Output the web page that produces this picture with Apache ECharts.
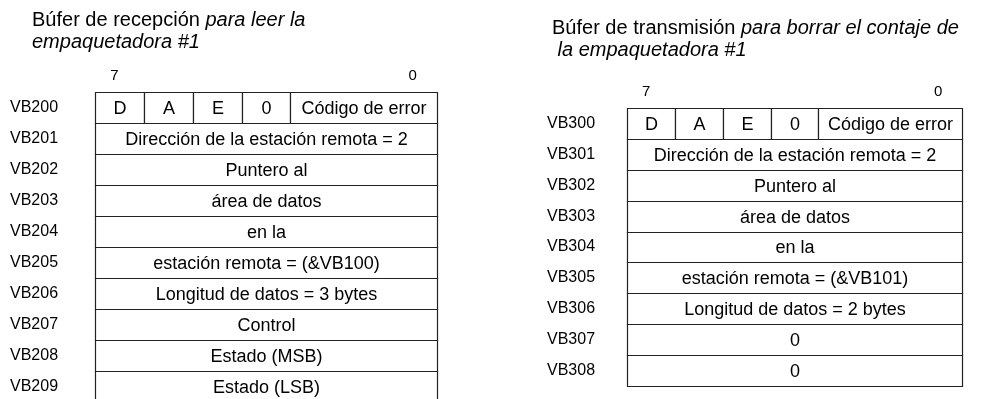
<!DOCTYPE html>
<html><head><meta charset="utf-8">
<script src="https://cdn.jsdelivr.net/npm/echarts@6/dist/echarts.min.js"></script>
<style>html,body{margin:0;padding:0;background:#fff}#c{width:981px;height:399px}</style>
</head><body><div id="c"></div>
<script>
// ---- data ----
const recvTitle = 'Búfer de recepción ';
const recvTitleItalic = ['para leer la', 'empaquetadora #1'];
const sendTitle = 'Búfer de transmisión ';
const sendTitleItalic = ['para borrar el contaje de', ' la empaquetadora #1'];
const recvRows = ['VB200','VB201','VB202','VB203','VB204','VB205','VB206','VB207','VB208','VB209'];
const sendRows = ['VB300','VB301','VB302','VB303','VB304','VB305','VB306','VB307','VB308'];
const headerCells = ['D','A','E','0','Código de error'];
const headerSpans = [1,1,1,1,3];
const recvTexts = ['Dirección de la estación remota = 2','Puntero al','área de datos','en la','estación remota = (&VB100)','Longitud de datos = 3 bytes','Control','Estado (MSB)','Estado (LSB)'];
const sendTexts = ['Dirección de la estación remota = 2','Puntero al','área de datos','en la','estación remota = (&VB101)','Longitud de datos = 2 bytes','0','0'];
const bitLabels = ['7','0'];
const bitLabelPos = [0.4, 6.5];

// ---- build ----
const FONT = '"Liberation Sans", Arial, Helvetica, sans-serif';
const totalUnits = headerSpans.reduce((a,b)=>a+b,0);

function cellData(texts){
  const out = [];
  let x = 0;
  headerCells.forEach((t,i)=>{ out.push([x, x+headerSpans[i], 0]); x += headerSpans[i]; });
  texts.forEach((t,i)=>{ out.push([0, totalUnits, i+1]); });
  return out;
}
function cellTexts(texts){ return headerCells.concat(texts); }
function makeRenderCell(texts){
  const labels = cellTexts(texts);
  return function(params, api){
    const a = api.coord([api.value(0), api.value(2)]);
    const b = api.coord([api.value(1), api.value(2)]);
    const h = api.size([0,1])[1];
    const x0 = Math.round(a[0]) + 0.5, x1 = Math.round(b[0]) + 0.5;
    const y0 = Math.round(a[1] - h/2) + 0.5, y1 = Math.round(a[1] + h/2) + 0.5;
    return {
      type: 'group',
      children: [
        {type:'rect', shape:{x:x0, y:y0, width:x1-x0, height:y1-y0},
         style:{fill:'#fff', stroke:'#222', lineWidth:1.2}},
        {type:'text', style:{text: labels[params.dataIndex], x:(x0+x1)/2, y:(y0+y1)/2 + 1,
          align:'center', verticalAlign:'middle', fontSize:18, fontFamily:FONT, fill:'#000'}}
      ]
    };
  };
}
function renderBit(params, api){
  const p = api.coord([api.value(0), 0]);
  const h = api.size([0,1])[1];
  return {type:'text', style:{text: bitLabels[params.dataIndex], x:p[0], y:p[1] - h/2 - 16,
    align:'center', verticalAlign:'middle', fontSize:15, fontFamily:FONT, fill:'#000'}};
}
function titleOf(plain, ital, left, top){
  return {left, top, padding:0, text: '{n|' + plain + '}{i|' + ital[0] + '}\n{i|' + ital[1] + '}',
    textStyle:{fontWeight:'normal', rich:{
      n:{fontSize:20, fontFamily:FONT, color:'#000', fontWeight:'normal', lineHeight:22},
      i:{fontSize:20, fontFamily:FONT, color:'#000', fontWeight:'normal', fontStyle:'italic', lineHeight:22}
    }}};
}
const grids = [
  {left:95, top:92, width:342, height:310, outerBoundsMode:'none'},
  {left:627, top:108, width:335, height:278, outerBoundsMode:'none'}
];
function xAx(i){ return {type:'value', gridIndex:i, min:0, max:totalUnits, show:false}; }
function yAx(i, rows, margin){
  return {type:'category', gridIndex:i, data:rows, inverse:true,
    axisLine:{show:false}, axisTick:{show:false}, splitLine:{show:false},
    axisLabel:{align:'left', margin, fontSize:16, fontFamily:FONT, color:'#000'}};
}
const chart = echarts.init(document.getElementById('c'), null, {renderer:'canvas'});
chart.setOption({
  animation:false,
  backgroundColor:'#fff',
  title:[titleOf(recvTitle, recvTitleItalic, 32, 9), titleOf(sendTitle, sendTitleItalic, 552, 17)],
  grid:grids,
  xAxis:[xAx(0), xAx(1)],
  yAxis:[yAx(0, recvRows, 85), yAx(1, sendRows, 80)],
  series:[
    {type:'custom', xAxisIndex:0, yAxisIndex:0, renderItem:makeRenderCell(recvTexts), data:cellData(recvTexts), encode:{x:[0,1], y:2}},
    {type:'custom', xAxisIndex:1, yAxisIndex:1, renderItem:makeRenderCell(sendTexts), data:cellData(sendTexts), encode:{x:[0,1], y:2}},
    {type:'custom', xAxisIndex:0, yAxisIndex:0, renderItem:renderBit, data:bitLabelPos.map(p=>[p]), encode:{x:0}},
    {type:'custom', xAxisIndex:1, yAxisIndex:1, renderItem:renderBit, data:bitLabelPos.map(p=>[p]), encode:{x:0}}
  ]
});
</script></body></html>
